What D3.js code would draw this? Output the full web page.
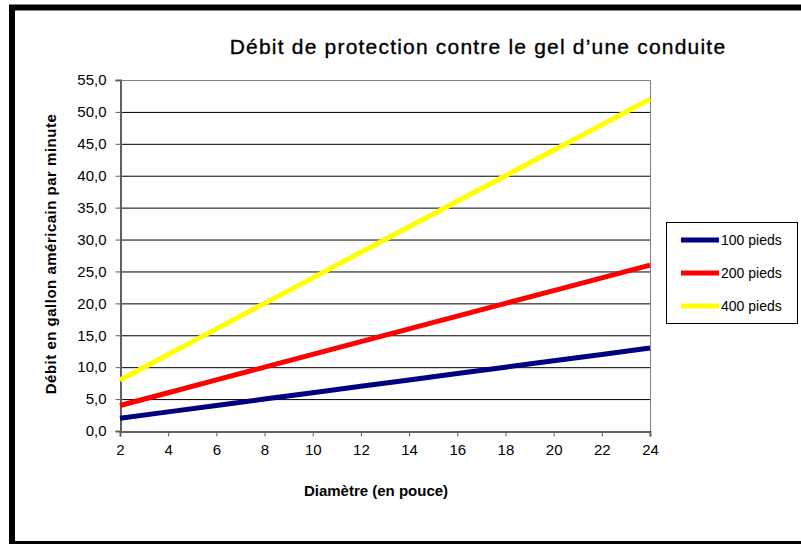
<!DOCTYPE html>
<html><head><meta charset="utf-8">
<script src="https://cdn.jsdelivr.net/npm/d3@7"></script>
<style>body{margin:0;background:#fff}svg{display:block;font-family:"Liberation Sans",Arial,sans-serif}</style>
</head><body><svg id="c" width="801" height="544"></svg>
<script>
const diameters = [2,4,6,8,10,12,14,16,18,20,22,24];
const seriesNames = ["100 pieds","200 pieds","400 pieds"];
const s100 = [2,3,4,5,6,7,8,9,10,11,12,13];
const s200 = [4,6,8,10,12,14,16,18,20,22,24,26];
const s400 = [8,12,16,20,24,28,32,36,40,44,48,52];
const seriesColors = ["#000080","#FF0000","#FFFF00"];
const yTicks = [0,5,10,15,20,25,30,35,40,45,50,55];
const xTicks = [2,4,6,8,10,12,14,16,18,20,22,24];
const title = "Débit de protection contre le gel d’une conduite";
const xTitle = "Diamètre (en pouce)";
const yTitle = "Débit en gallon américain par minute";

const svg = d3.select("#c");
// outer frame
svg.append("rect").attr("x",12).attr("y",7.5).attr("width",800).attr("height",536.5)
  .attr("fill","#fff").attr("stroke","#000").attr("stroke-width",6);

const L=120, T=80, R=650, B=431;
const x = d3.scaleLinear().domain([2,24]).range([L,R]);
const y = d3.scaleLinear().domain([0,55]).range([B,T]);

// gridlines
svg.append("g").selectAll("line").data(yTicks.filter(d=>d>0 && d<55)).join("line")
  .attr("x1",L).attr("x2",R).attr("y1",d=>y(d)+0.5).attr("y2",d=>y(d)+0.5)
  .attr("stroke","#000").attr("stroke-width",1);
// plot border top/right
svg.append("path").attr("d",`M${L},${T+0.5}H${R+0.5}V${B}`).attr("fill","none").attr("stroke","#808080");

const fmt = d => d3.format(".1f")(d).replace(".",",");
const ya = svg.append("g").attr("transform",`translate(${L+0.5},0)`)
  .call(d3.axisLeft(y).tickValues(yTicks).tickFormat(fmt).tickSizeOuter(0).tickSize(5).tickPadding(9));
const xa = svg.append("g").attr("transform",`translate(0,${B+0.5})`)
  .call(d3.axisBottom(x).tickValues(xTicks).tickSizeOuter(0).tickSize(5).tickPadding(8));
[ya,xa].forEach(g=>{
  g.select(".domain").attr("stroke","#606060").attr("stroke-width",2);
  g.selectAll(".tick line").attr("stroke","#606060");
  g.selectAll("text").attr("font-size",15).attr("fill","#000").attr("font-family","Liberation Sans, Arial, sans-serif");
});

const data = [s100,s200,s400];
const line = d3.line().x((d,i)=>x(diameters[i])).y(d=>y(d));
svg.append("g").selectAll("path").data(data).join("path")
  .attr("d",line).attr("fill","none").attr("stroke",(d,i)=>seriesColors[i]).attr("stroke-width",5);

svg.append("text").attr("x",478).attr("y",54).attr("text-anchor","middle")
  .attr("font-size",21).attr("letter-spacing",1.2).attr("stroke","#000").attr("stroke-width",0.35).text(title);
svg.append("text").attr("x",376).attr("y",496).attr("text-anchor","middle")
  .attr("font-size",15).attr("font-weight","bold").text(xTitle);
svg.append("text").attr("transform","translate(56,254) rotate(-90)").attr("text-anchor","middle")
  .attr("font-size",15).attr("letter-spacing",0.5).attr("font-weight","bold").text(yTitle);

// legend
const lg = svg.append("g");
lg.append("rect").attr("x",666.5).attr("y",222.5).attr("width",131).attr("height",101)
  .attr("fill","#fff").attr("stroke","#000");
const ly = d3.scalePoint().domain(seriesNames).range([240,306]);
const it = lg.selectAll("g").data(seriesNames).join("g").attr("transform",d=>`translate(0,${ly(d)})`);
it.append("line").attr("x1",681).attr("x2",719).attr("stroke",(d,i)=>seriesColors[i]).attr("stroke-width",5);
it.append("text").attr("x",721).attr("y",5).attr("font-size",14).text(d=>d);
</script></body></html>
